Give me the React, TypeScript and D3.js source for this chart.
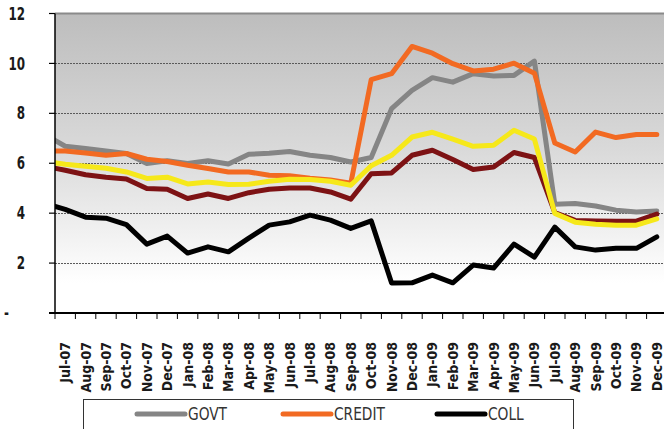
import React from "react";
import * as d3 from "d3";

// Month categories (first one, Jun-07, lies just left of the plot and is clipped)
const months = [
  "Jun-07",
  "Jul-07", "Aug-07", "Sep-07", "Oct-07", "Nov-07", "Dec-07",
  "Jan-08", "Feb-08", "Mar-08", "Apr-08", "May-08", "Jun-08",
  "Jul-08", "Aug-08", "Sep-08", "Oct-08", "Nov-08", "Dec-08",
  "Jan-09", "Feb-09", "Mar-09", "Apr-09", "May-09", "Jun-09",
  "Jul-09", "Aug-09", "Sep-09", "Oct-09", "Nov-09", "Dec-09",
];
const visibleMonths = months.slice(1);

const govt = [7.15, 6.68, 6.59, 6.49, 6.39, 5.99, 6.1, 5.99, 6.1, 5.97, 6.36, 6.4, 6.47, 6.32, 6.23, 6.05, 6.23, 8.19, 8.92, 9.43, 9.25, 9.59, 9.5, 9.52, 10.09, 4.36, 4.39, 4.29, 4.12, 4.05, 4.09];
const credit = [6.5, 6.49, 6.41, 6.32, 6.39, 6.16, 6.07, 5.92, 5.79, 5.65, 5.65, 5.52, 5.5, 5.4, 5.33, 5.2, 9.35, 9.59, 10.68, 10.41, 9.99, 9.7, 9.77, 10.01, 9.61, 6.81, 6.45, 7.25, 7.03, 7.15, 7.15];
const coll = [4.4, 4.15, 3.84, 3.8, 3.54, 2.76, 3.08, 2.4, 2.65, 2.45, 3.0, 3.52, 3.65, 3.92, 3.72, 3.39, 3.69, 1.2, 1.21, 1.52, 1.21, 1.92, 1.8, 2.76, 2.24, 3.44, 2.65, 2.52, 2.59, 2.59, 3.05];
const series4 = [5.88, 5.72, 5.54, 5.44, 5.37, 4.99, 4.96, 4.59, 4.77, 4.59, 4.82, 4.96, 5.01, 5.01, 4.85, 4.56, 5.58, 5.61, 6.32, 6.52, 6.15, 5.75, 5.85, 6.43, 6.23, 4.02, 3.71, 3.69, 3.68, 3.68, 3.96];
const series5 = [6.07, 5.96, 5.88, 5.8, 5.65, 5.39, 5.44, 5.17, 5.25, 5.15, 5.16, 5.28, 5.36, 5.35, 5.28, 5.12, 5.9, 6.32, 7.05, 7.24, 6.97, 6.68, 6.72, 7.32, 6.97, 3.99, 3.64, 3.56, 3.52, 3.52, 3.77];

const yTickValues = [0, 2, 4, 6, 8, 10, 12];
const yTickLabels = ["-", "2", "4", "6", "8", "10", "12"];

const seriesDefs = [
  { name: "GOVT", values: govt, color: "#858585", legend: true },
  { name: "CREDIT", values: credit, color: "#f26a22", legend: true },
  { name: "COLL", values: coll, color: "#000000", legend: true },
  { name: "S4", values: series4, color: "#7d1214", legend: false },
  { name: "S5", values: series5, color: "#f6e81a", legend: false },
];

const W = 664;
const H = 429;
const plotLeft = 55;
const plotTop = 13.5;
const plotBottom = 313;
const band = 20.4;
const plotRight = plotLeft + visibleMonths.length * band;

const fontAxis = "'Liberation Sans Narrow', 'DejaVu Sans Condensed', 'Liberation Sans', sans-serif";

export default function App() {
  const x = d3
    .scaleBand<string>()
    .domain(months)
    .range([plotLeft - band, plotRight])
    .paddingInner(0)
    .paddingOuter(0);
  const cx = (m: string) => (x(m) as number) + x.bandwidth() / 2;
  const y = d3.scaleLinear().domain([0, 12]).range([plotBottom, plotTop]);

  const line = (vals: number[]) =>
    d3
      .line<number>()
      .x((_, i) => cx(months[i]))
      .y((v) => y(v))(vals) as string;

  const tickXs = [...visibleMonths.map((m) => x(m) as number), plotRight].filter((v) => v <= W);

  const legendItems = seriesDefs.filter((s) => s.legend);
  const legendX = [137, 283, 437];

  return (
    <div style={{ position: "absolute", left: 0, top: 0 }}>
      <svg width={W} height={H} style={{ display: "block", background: "#fff" }}>
        <defs>
          <linearGradient id="bg" x1="0" y1="0" x2="0" y2="1">
            <stop offset="0" stopColor="#bdbdbd" />
            <stop offset="0.45" stopColor="#d9d9d9" />
            <stop offset="0.9" stopColor="#ffffff" />
            <stop offset="1" stopColor="#ffffff" />
          </linearGradient>
          <clipPath id="plotClip">
            <rect x={plotLeft} y={0} width={plotRight - plotLeft} height={plotBottom} />
          </clipPath>
        </defs>

        <rect
          x={plotLeft}
          y={plotTop}
          width={plotRight - plotLeft}
          height={plotBottom - plotTop}
          fill="url(#bg)"
        />

        {/* gridlines */}
        {yTickValues
          .filter((v) => v > 0 && v < 12)
          .map((v) => (
            <line
              key={v}
              x1={plotLeft}
              x2={plotRight}
              y1={Math.round(y(v)) + 0.5}
              y2={Math.round(y(v)) + 0.5}
              stroke="#5a5a5a"
              strokeWidth={1}
              strokeDasharray="2,1"
            />
          ))}

        {/* top border */}
        <line x1={plotLeft} x2={plotRight} y1={plotTop} y2={plotTop} stroke="#8a8a8a" strokeWidth={2} />

        {/* series */}
        <g clipPath="url(#plotClip)">
          {seriesDefs.map((s) => (
            <path
              key={s.name}
              d={line(s.values)}
              fill="none"
              stroke={s.color}
              strokeWidth={5}
              strokeLinejoin="round"
              strokeLinecap="round"
            />
          ))}
        </g>

        {/* y axis */}
        <line x1={plotLeft} x2={plotLeft} y1={plotTop} y2={plotBottom} stroke="#000" strokeWidth={1.5} />
        {yTickValues.map((v, i) => (
          <g key={v}>
            <line x1={plotLeft - 6} x2={plotLeft} y1={y(v)} y2={y(v)} stroke="#000" strokeWidth={1.2} />
            <text
              transform={`translate(${v === 0 ? 9 : 25},${y(v)}) scale(0.78,1)`}
              dy="0.36em"
              textAnchor="end"
              fontFamily={fontAxis}
              fontWeight="bold"
              fontSize={17}
              fill="#1a1a1a"
            >
              {yTickLabels[i]}
            </text>
          </g>
        ))}

        {/* x axis */}
        <line x1={plotLeft - 6} x2={W} y1={plotBottom} y2={plotBottom} stroke="#000" strokeWidth={2} />
        {tickXs.map((tx, i) => (
          <line key={i} x1={tx} x2={tx} y1={plotBottom} y2={plotBottom + 6} stroke="#000" strokeWidth={1} />
        ))}
        {visibleMonths.map((m) => (
          <text
            key={m}
            transform={`translate(${cx(m)},342) rotate(-90)`}
            dy="0.36em"
            textAnchor="end"
            fontFamily={fontAxis}
            fontWeight="bold"
            fontSize={14}
            fill="#1a1a1a"
          >
            {m}
          </text>
        ))}

        {/* legend */}
        <rect x={83.5} y={399.5} width={490} height={60} fill="#fff" stroke="#333" strokeWidth={1} />
        {legendItems.map((s, i) => (
          <g key={s.name}>
            <line
              x1={legendX[i]}
              x2={legendX[i] + 48}
              y1={414}
              y2={414}
              stroke={s.color}
              strokeWidth={5}
              strokeLinecap="round"
            />
            <text
              transform={`translate(${legendX[i] + 51},414) scale(0.9,1)`}
              dy="0.36em"
              fontFamily={fontAxis}
              fontSize={17}
              fill="#333"
            >
              {s.name}
            </text>
          </g>
        ))}
      </svg>
    </div>
  );
}
